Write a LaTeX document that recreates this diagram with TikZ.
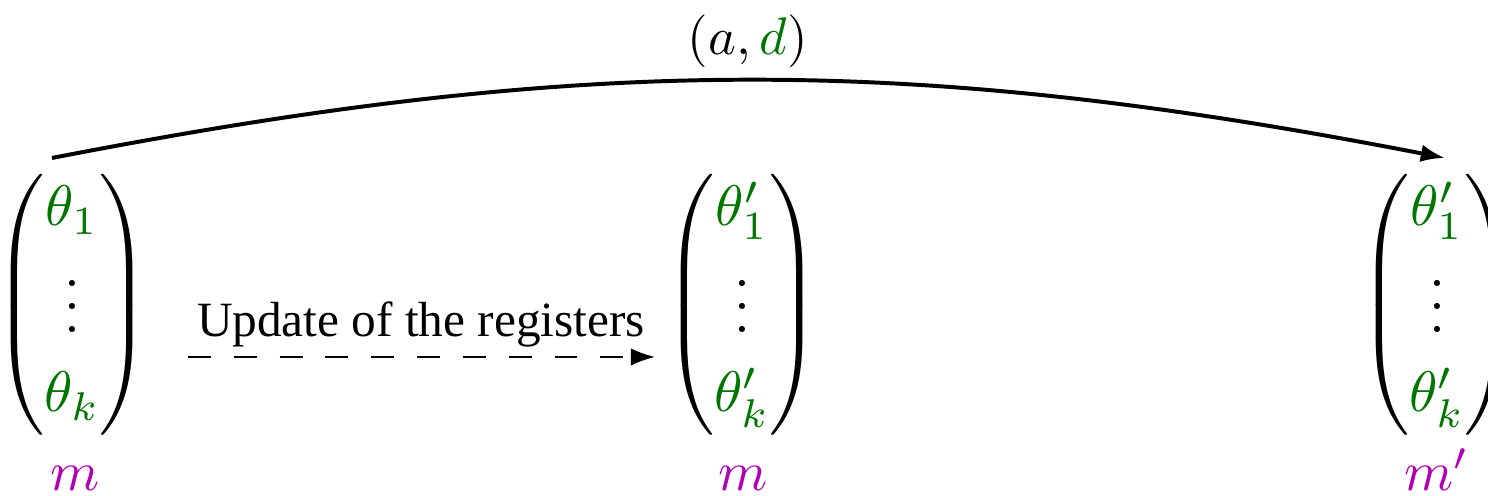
\documentclass[tikz,border=0pt]{standalone}
\usepackage{amsmath}
\usepackage[no-math]{fontspec}
\newfontfamily\txtfont{Liberation Serif}
\usetikzlibrary{arrows.meta}
\definecolor{thgreen}{RGB}{0,118,0}
\definecolor{mmag}{RGB}{178,0,180}
\newcommand\mylpar{\vcenter{\hbox{\scalebox{1}[0.95]{$\delimiterfactor=1000 \delimitershortfall=0pt \nulldelimiterspace=0pt
  \left(\vrule height 25.6pt depth 20.6pt width 0pt\right.$}}}}
\newcommand\myrpar{\vcenter{\hbox{\scalebox{1}[0.95]{$\delimiterfactor=1000 \delimitershortfall=0pt \nulldelimiterspace=0pt
  \left.\vrule height 25.6pt depth 20.6pt width 0pt\right)$}}}}
\newcommand\myvecmat[2]{$\mylpar
  \begin{matrix}\color{thgreen}#1\\[0pt]\vdots\\[1.8pt]\color{thgreen}#2\end{matrix}\myrpar$}
\tikzset{
  vecnode/.style={inner sep=0pt, outer sep=0pt, scale=1.3, anchor=center},
  mlabel/.style={inner sep=0pt, outer sep=0pt, scale=1.27, anchor=base, text=mmag},
  tipstyle/.style={-{Latex[length=5.5pt,width=4pt]}},
}
\begin{document}
\begin{tikzpicture}[x=0.227pt,y=0.227pt]
\useasboundingbox (0,0) rectangle (1488,496);
% vectors
\node[vecnode] (L) at (72,191) {\myvecmat{\theta_1}{\theta_k}};
\node[vecnode] (M) at (742,191) {\myvecmat{\theta'_1}{\theta'_k}};
\node[vecnode] (R) at (1437,191) {\myvecmat{\theta'_1}{\theta'_k}};
% labels
\node[mlabel] (mL) at (75,5) {$m$};
\node[mlabel] (mM) at (743,5) {$m$};
\node[mlabel] (mR) at (1437,5) {$m'$};
% top arc
\coordinate (s) at (52,338);
\coordinate (e) at (1445,338);
\draw[tipstyle, line width=0.9pt] (s) to[bend left=11] (e);
\node[anchor=base, inner sep=0pt, scale=1.2] (ad) at (748,441) {$(a,{\color{thgreen}d})$};
% dashed arrow
\coordinate (ds) at (188,139);
\coordinate (de) at (655,139);
\draw[tipstyle, line width=0.5pt, dash pattern=on 5.2pt off 5.2pt] (ds) -- (de);
\node[anchor=base, inner sep=0pt, font=\txtfont\fontsize{11.2pt}{13pt}\selectfont] (upd) at (421,159) {Update of the registers};
\end{tikzpicture}
\end{document}
